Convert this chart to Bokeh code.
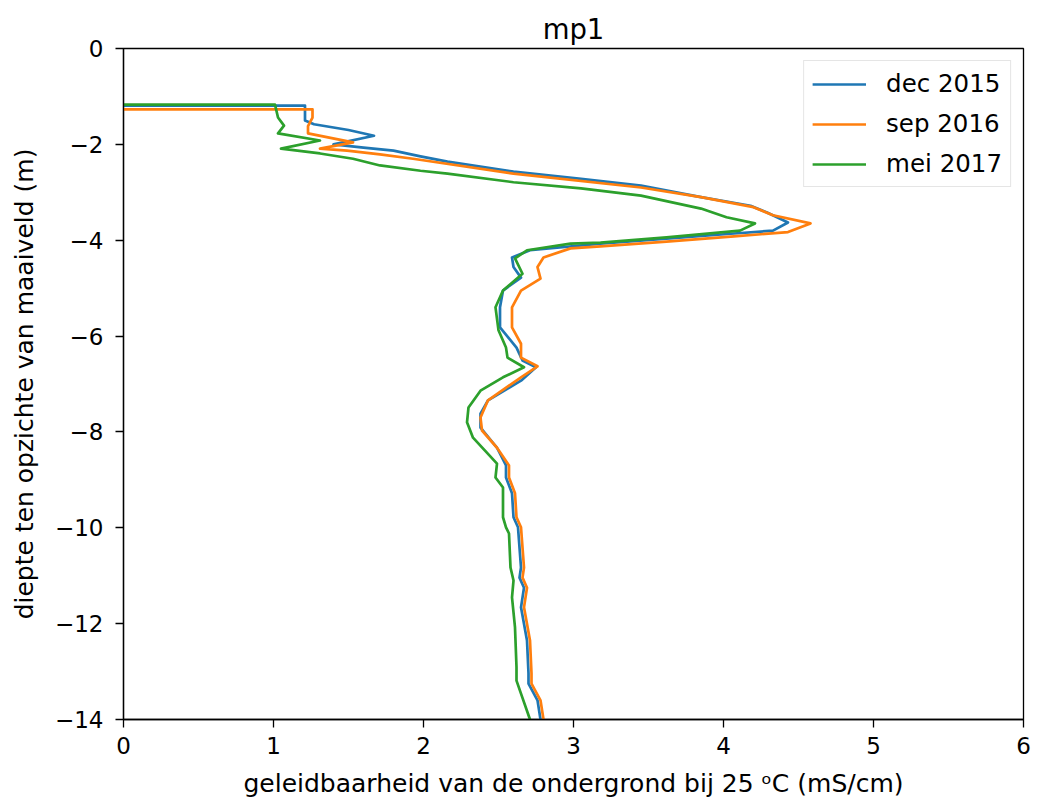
from bokeh.plotting import figure
from bokeh.embed import file_html
from bokeh.resources import INLINE
from bokeh.models import FixedTicker, Legend, LegendItem, Range1d

# ---- data ----
dec2015_x = [0.0, 1.21, 1.21, 1.27, 1.50, 1.67, 1.40, 1.60, 1.80, 1.98, 2.16, 2.60, 3.05, 3.45,
             3.85, 4.18, 4.29, 4.43, 4.33, 4.07, 3.62, 3.18, 2.71, 2.59, 2.60, 2.65, 2.53, 2.51,
             2.51, 2.62, 2.66, 2.75, 2.65, 2.43, 2.38, 2.38, 2.49, 2.55, 2.55, 2.59, 2.60, 2.63,
             2.65, 2.64, 2.67, 2.65, 2.69, 2.70, 2.70, 2.76, 2.78]
dec2015_y = [-1.19, -1.19, -1.50, -1.58, -1.70, -1.82, -2.00, -2.07, -2.13, -2.25, -2.36, -2.57,
             -2.72, -2.86, -3.10, -3.28, -3.42, -3.63, -3.80, -3.86, -3.97, -4.07, -4.21, -4.36,
             -4.56, -4.78, -5.05, -5.40, -5.82, -6.24, -6.51, -6.65, -6.93, -7.34, -7.62, -7.91,
             -8.33, -8.70, -8.95, -9.28, -9.78, -9.99, -10.83, -11.04, -11.25, -11.66, -12.35,
             -13.04, -13.25, -13.60, -14.00]

sep2016_x = [0.0, 1.26, 1.26, 1.23, 1.23, 1.53, 1.31, 1.49, 1.71, 1.93, 2.60, 3.45, 3.85, 4.20,
             4.33, 4.58, 4.43, 4.07, 3.62, 3.18, 2.98, 2.80, 2.76, 2.78, 2.65, 2.59, 2.59, 2.65,
             2.65, 2.76, 2.65, 2.43, 2.38, 2.39, 2.49, 2.57, 2.57, 2.61, 2.62, 2.65, 2.67, 2.66,
             2.69, 2.67, 2.71, 2.72, 2.72, 2.78, 2.80]
sep2016_y = [-1.27, -1.27, -1.44, -1.62, -1.77, -1.96, -2.09, -2.13, -2.21, -2.30, -2.61, -2.90,
             -3.10, -3.31, -3.48, -3.65, -3.83, -3.92, -4.03, -4.13, -4.17, -4.36, -4.56, -4.80,
             -5.05, -5.40, -5.82, -6.16, -6.45, -6.63, -6.86, -7.34, -7.70, -7.97, -8.33, -8.70,
             -8.95, -9.28, -9.78, -9.99, -10.83, -11.04, -11.25, -11.66, -12.35, -13.04, -13.25,
             -13.60, -14.00]

mei2017_x = [0.0, 1.01, 1.03, 1.07, 1.03, 1.31, 1.05, 1.31, 1.53, 1.71, 1.98, 2.16, 2.60, 3.05,
             3.45, 3.85, 4.02, 4.21, 4.11, 3.62, 3.18, 2.98, 2.69, 2.61, 2.66, 2.53, 2.48, 2.50,
             2.55, 2.56, 2.67, 2.53, 2.38, 2.30, 2.29, 2.33, 2.49, 2.48, 2.53, 2.53, 2.55, 2.57,
             2.58, 2.60, 2.59, 2.61, 2.62, 2.62, 2.65, 2.71]
mei2017_y = [-1.17, -1.17, -1.44, -1.61, -1.77, -1.92, -2.09, -2.19, -2.30, -2.44, -2.55, -2.61,
             -2.79, -2.92, -3.07, -3.34, -3.52, -3.65, -3.80, -3.94, -4.05, -4.07, -4.21, -4.38,
             -4.70, -5.05, -5.40, -5.88, -6.24, -6.45, -6.65, -6.86, -7.14, -7.49, -7.80, -8.12,
             -8.66, -8.95, -9.16, -9.78, -9.99, -10.12, -10.83, -11.10, -11.45, -12.08, -12.91,
             -13.19, -13.46, -14.00]

series_names = ["dec 2015", "sep 2016", "mei 2017"]
series_colors = ["#1f77b4", "#ff7f0e", "#2ca02c"]
x_ticks = [0, 1, 2, 3, 4, 5, 6]
y_ticks = [0, -2, -4, -6, -8, -10, -12, -14]

FONT = "DejaVu Sans"

p = figure(width=1034, height=801, output_backend="svg", toolbar_location=None,
           x_range=Range1d(0, 6), y_range=Range1d(-14, 0),
           min_border_left=123, min_border_right=11, min_border_top=48, min_border_bottom=82,
           frame_width=900, frame_height=671)

p.title.text = "mp1"
p.title.align = "center"
p.title.text_font = FONT
p.title.text_font_size = "27.5px"
p.title.text_font_style = "normal"
p.title.text_color = "#000000"
p.title.standoff = 7

p.xgrid.visible = False
p.ygrid.visible = False
p.outline_line_color = "#000000"
p.outline_line_width = 1.3

for ax in (p.xaxis, p.yaxis):
    ax.axis_line_color = "#000000"
    ax.axis_line_width = 1.3
    ax.major_tick_line_color = "#000000"
    ax.major_tick_line_width = 1.3
    ax.minor_tick_line_color = None
    ax.major_tick_out = 8
    ax.major_tick_in = 0
    ax.major_label_text_font = FONT
    ax.major_label_text_font_size = "23px"
    ax.major_label_text_color = "#000000"
    ax.axis_label_text_font = FONT
    ax.axis_label_text_font_size = "25px"
    ax.axis_label_text_font_style = "normal"
    ax.axis_label_text_color = "#000000"

p.xaxis.major_label_standoff = 9
p.yaxis.major_label_standoff = 12
p.xaxis.axis_label_standoff = 12
p.yaxis.axis_label_standoff = 13

p.xaxis.ticker = FixedTicker(ticks=x_ticks)
p.yaxis.ticker = FixedTicker(ticks=y_ticks)
p.yaxis.major_label_overrides = {t: (str(t).replace("-", "\u2212")) for t in y_ticks}
p.xaxis.axis_label = "geleidbaarheid van de ondergrond bij 25 \u1d52C (mS/cm)"
p.yaxis.axis_label = "diepte ten opzichte van maaiveld (m)"

data = [(dec2015_x, dec2015_y), (sep2016_x, sep2016_y), (mei2017_x, mei2017_y)]
items = []
for (xs, ys), name, col in zip(data, series_names, series_colors):
    r = p.line(xs, ys, line_color=col, line_width=2.7, line_join="round")
    items.append(LegendItem(label=name, renderers=[r]))

legend = Legend(items=items, location="top_right")
legend.label_text_font = FONT
legend.label_text_font_size = "24.5px"
legend.label_text_color = "#000000"
legend.glyph_width = 54
legend.glyph_height = 24
legend.label_standoff = 20
legend.spacing = 11
legend.padding = 8
legend.margin = 12
legend.border_line_color = "#cccccc"
legend.border_line_width = 1.3
legend.background_fill_alpha = 0.8
p.add_layout(legend)

open("out.html", "w").write(file_html(p, INLINE))
